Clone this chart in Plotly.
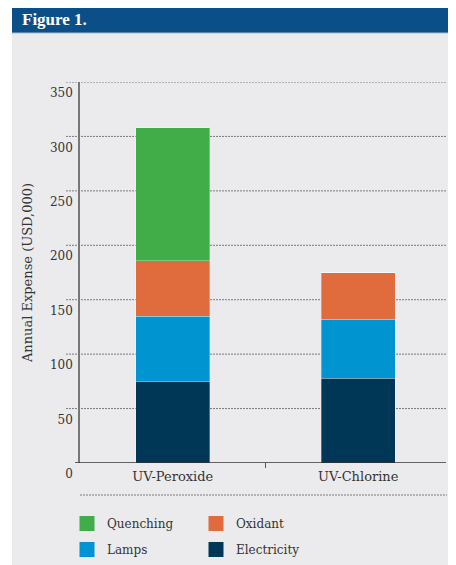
import plotly.graph_objects as go

categories = ["UV-Peroxide", "UV-Chlorine"]
electricity = [75, 78]
lamps = [60, 54]
oxidant = [51, 43]
quenching = [122, 0]
y_ticks = [0, 50, 100, 150, 200, 250, 300, 350]

series = [
    ("Electricity", electricity, "#003757", "legend2"),
    ("Lamps", lamps, "#0094D1", "legend2"),
    ("Oxidant", oxidant, "#E06B3D", "legend"),
    ("Quenching", quenching, "#41AD49", "legend"),
]

FONT = "DejaVu Serif"
TXT = "#333333"
OFF = 8  # page body margin
W, H = 448, 557
ML, MR, MT, MB = 72, 5, 74, 102
PW, PH = W - ML - MR, H - MT - MB


def fx(px):
    return (px - OFF - ML) / PW


def fy(py):
    return 1 - (py - OFF - MT) / PH


fig = go.Figure()
for name, vals, col, lg in series:
    fig.add_trace(go.Bar(
        x=categories, y=vals, name=name, legendgroup=name, showlegend=False,
        marker=dict(color=col, line=dict(color="rgba(255,255,255,0.5)", width=0.6)),
        width=0.4,
    ))
# legend keys (square swatches) tied to the bar traces via legendgroup
for name, vals, col, lg in series:
    fig.add_trace(go.Scatter(
        x=[categories[0]], y=[None], mode="markers", name=name, legendgroup=name,
        legend=lg, showlegend=True, hoverinfo="skip",
        marker=dict(symbol="square", size=15, color=col, line=dict(width=0)),
    ))

shapes = []
shapes.append(dict(type="rect", xref="paper", yref="paper", layer="below",
                   x0=fx(12), x1=fx(480), y0=fy(700), y1=fy(0),
                   fillcolor="#EBEBED", line=dict(width=0)))
shapes.append(dict(type="rect", xref="paper", yref="paper", layer="below",
                   x0=fx(12), x1=fx(480), y0=fy(33), y1=fy(0),
                   fillcolor="#0B4F88", line=dict(width=0)))
shapes.append(dict(type="line", xref="paper", yref="paper", layer="below",
                   x0=fx(12), x1=fx(480), y0=fy(33), y1=fy(33),
                   line=dict(color="#A9BDD2", width=1)))
for t in y_ticks[1:]:
    shapes.append(dict(type="line", xref="paper", yref="y", layer="below",
                       x0=fx(66), x1=fx(447), y0=t, y1=t,
                       line=dict(color="#7A7A7A", width=1, dash="2px,1px")))
shapes.append(dict(type="line", xref="paper", yref="y", layer="above",
                   x0=fx(75), x1=fx(446), y0=0, y1=0,
                   line=dict(color="#333333", width=1.5)))
shapes.append(dict(type="line", xref="x", yref="paper",
                   x0=0.5, x1=0.5, y0=0, y1=fy(468),
                   line=dict(color="#555555", width=1)))
shapes.append(dict(type="line", xref="paper", yref="paper",
                   x0=fx(80), x1=fx(447), y0=fy(495), y1=fy(495),
                   line=dict(color="#7A7A7A", width=1, dash="2px,1px")))

leg_common = dict(
    orientation="h", traceorder="reversed", itemsizing="trace",
    xanchor="left", yanchor="top",
    entrywidth=84, entrywidthmode="pixels",
    font=dict(family=FONT, size=12, color=TXT),
    bgcolor="rgba(0,0,0,0)", itemclick=False, itemdoubleclick=False,
)

fig.update_layout(
    width=W, height=H,
    margin=dict(l=ML, r=MR, t=MT, b=MB, autoexpand=False),
    paper_bgcolor="white",
    plot_bgcolor="rgba(0,0,0,0)",
    barmode="stack",
    font=dict(family=FONT, size=12, color=TXT),
    shapes=shapes,
    showlegend=True,
    legend=dict(x=fx(67), y=fy(509), **leg_common),
    legend2=dict(x=fx(67), y=fy(535), **leg_common),
    xaxis=dict(
        showgrid=False, zeroline=False, showline=False,
        ticks="", tickfont=dict(family=FONT, size=13, color=TXT),
        ticklabelstandoff=4,
    ),
    yaxis=dict(
        range=[0, 350], tickvals=y_ticks, ticktext=[str(v) for v in y_ticks],
        showgrid=False, zeroline=False,
        showline=True, linecolor="#777777", linewidth=1.5,
        ticks="", ticklabelshift=11, ticklabelstandoff=3,
        tickfont=dict(family=FONT, size=12, color=TXT),
        title=dict(text="Annual Expense (USD,000)", standoff=14,
                   font=dict(family=FONT, size=13, color=TXT)),
    ),
    annotations=[dict(
        text="<b>Figure 1.</b>", xref="paper", yref="paper",
        x=fx(20), y=fy(19), xanchor="left", yanchor="middle",
        showarrow=False, font=dict(family="Liberation Serif", size=17, color="white"),
    )],
)

fig.write_html("out.html")
